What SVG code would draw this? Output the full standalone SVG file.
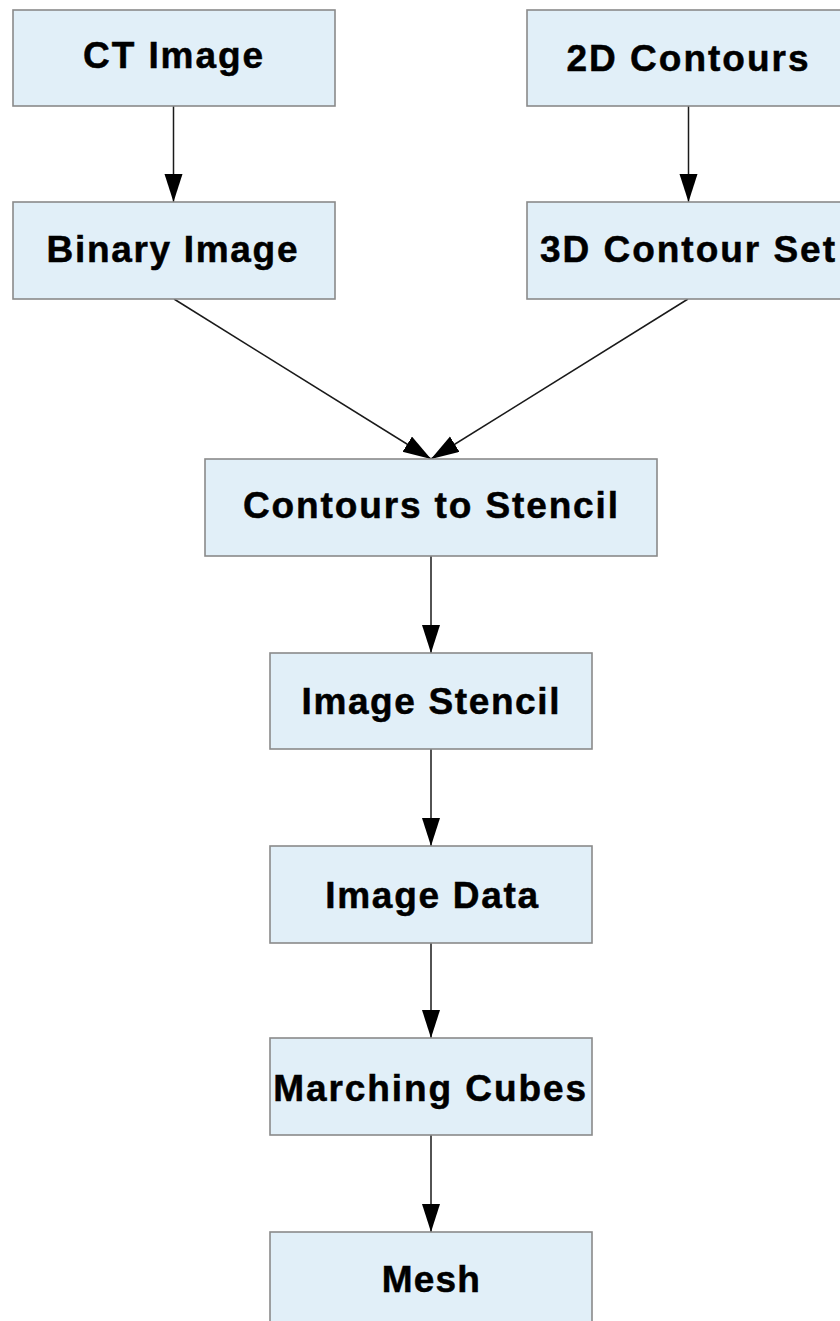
<svg xmlns="http://www.w3.org/2000/svg" width="840" height="1321" viewBox="0 0 840 1321">
  <defs>
    <marker id="arrow" markerUnits="userSpaceOnUse" markerWidth="30" markerHeight="20" refX="28" refY="9" orient="auto">
      <path d="M0,0 L28,9 L0,18 Z" fill="#000"/>
    </marker>
    <style>
      .box { fill: #e1eff8; stroke: #8a8a8a; stroke-width: 1.6; }
      .label { font-family: "Liberation Sans", Arial, sans-serif; font-weight: bold; font-size: 37px; fill: #000; stroke: #000; stroke-width: 0.5; text-anchor: middle; }
      .edge { stroke: #1a1a1a; stroke-width: 1.5; fill: none; marker-end: url(#arrow); }
    </style>
  </defs>

  <!-- connectors -->
  <g id="connectors">
    <line class="edge" x1="173.5" y1="106" x2="173.5" y2="202"/>
    <line class="edge" x1="688.5" y1="106" x2="688.5" y2="202"/>
    <line class="edge" x1="174" y1="299" x2="431" y2="459"/>
    <line class="edge" x1="688" y1="299" x2="431" y2="459"/>
    <line class="edge" x1="431" y1="556" x2="431" y2="653"/>
    <line class="edge" x1="431" y1="749" x2="431" y2="846"/>
    <line class="edge" x1="431" y1="943" x2="431" y2="1038"/>
    <line class="edge" x1="431" y1="1135" x2="431" y2="1232"/>
  </g>

  <!-- nodes -->
  <g id="ct-image">
    <rect class="box" x="13" y="10" width="322" height="96"/>
    <text class="label" x="173" y="68" textLength="180" lengthAdjust="spacing">CT Image</text>
  </g>
  <g id="two-d-contours">
    <rect class="box" x="527" y="10" width="324" height="96"/>
    <text class="label" x="687.5" y="71" textLength="242" lengthAdjust="spacing">2D Contours</text>
  </g>
  <g id="binary-image">
    <rect class="box" x="13" y="202" width="322" height="97"/>
    <text class="label" x="172" y="262" textLength="251" lengthAdjust="spacing">Binary Image</text>
  </g>
  <g id="three-d-contour-set">
    <rect class="box" x="527" y="202" width="324" height="97"/>
    <text class="label" x="687.5" y="262" textLength="295" lengthAdjust="spacing">3D Contour Set</text>
  </g>
  <g id="contours-to-stencil">
    <rect class="box" x="205" y="459" width="452" height="97"/>
    <text class="label" x="430.5" y="518" textLength="375" lengthAdjust="spacing">Contours to Stencil</text>
  </g>
  <g id="image-stencil">
    <rect class="box" x="270" y="653" width="322" height="96"/>
    <text class="label" x="430.5" y="714" textLength="258" lengthAdjust="spacing">Image Stencil</text>
  </g>
  <g id="image-data">
    <rect class="box" x="270" y="846" width="322" height="97"/>
    <text class="label" x="431.7" y="907.5" textLength="213" lengthAdjust="spacing">Image Data</text>
  </g>
  <g id="marching-cubes">
    <rect class="box" x="270" y="1038" width="322" height="97"/>
    <text class="label" x="429.7" y="1100.5" textLength="313" lengthAdjust="spacing">Marching Cubes</text>
  </g>
  <g id="mesh">
    <rect class="box" x="270" y="1232" width="322" height="97"/>
    <text class="label" x="430.8" y="1292" textLength="98" lengthAdjust="spacing">Mesh</text>
  </g>
</svg>
